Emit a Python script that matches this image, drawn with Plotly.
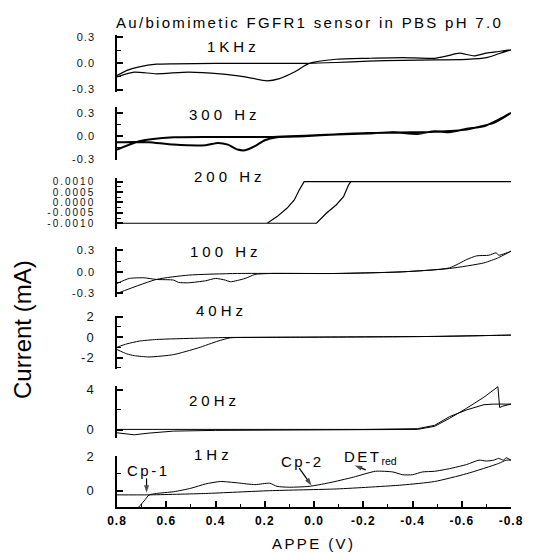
import plotly.graph_objects as go

# ---------------- data ----------------
title_text = "Au/biomimetic FGFR1 sensor in PBS pH 7.0"
y_title = "Current (mA)"
x_title = "APPE (V)"
panel_labels = ["1KHz", "300 Hz", "200 Hz", "100 Hz", "40Hz", "20Hz", "1Hz"]

x_tickvals = [0.8, 0.6, 0.4, 0.2, 0.0, -0.2, -0.4, -0.6, -0.8]
x_ticktext = ["0.8", "0.6", "0.4", "0.2", "0.0", "-0.2", "-0.4", "-0.6", "-0.8"]
x_minor = [0.7, 0.5, 0.3, 0.1, -0.1, -0.3, -0.5, -0.7]

# 1 kHz
khz1_fwd_v = [0.80, 0.73, 0.64, 0.51, 0.38, 0.28, 0.19, 0.14, 0.08, 0.02, -0.09, -0.22, -0.36, -0.49, -0.54, -0.59, -0.65, -0.70, -0.75, -0.80]
khz1_fwd_i = [-0.155, -0.10, -0.12, -0.10, -0.12, -0.155, -0.20, -0.175, -0.10, 0.0, 0.047, 0.058, 0.066, 0.058, 0.085, 0.117, 0.085, 0.117, 0.136, 0.155]
khz1_rev_v = [-0.80, -0.75, -0.70, -0.62, -0.49, -0.36, -0.22, -0.09, 0.02, 0.20, 0.40, 0.57, 0.64, 0.71, 0.76, 0.80]
khz1_rev_i = [0.155, 0.11, 0.065, 0.045, 0.04, 0.035, 0.025, 0.01, 0.0, 0.0, 0.0, -0.005, -0.01, -0.04, -0.08, -0.14]

# 300 Hz
hz300_fwd_v = [0.80, 0.73, 0.67, 0.57, 0.44, 0.39, 0.35, 0.31, 0.28, 0.24, 0.20, 0.15, 0.04, -0.09, -0.22, -0.32, -0.42, -0.49, -0.55, -0.62, -0.69, -0.75, -0.80]
hz300_fwd_i = [-0.078, -0.074, -0.078, -0.109, -0.117, -0.087, -0.109, -0.174, -0.183, -0.13, -0.052, -0.013, 0.0, 0.022, 0.035, 0.052, 0.03, 0.065, 0.052, 0.096, 0.13, 0.217, 0.304]
hz300_rev_v = [-0.80, -0.73, -0.62, -0.49, -0.22, 0.18, 0.57, 0.71, 0.80]
hz300_rev_i = [0.304, 0.174, 0.087, 0.057, 0.043, -0.009, -0.013, -0.065, -0.174]

# 200 Hz
hz200_fwd_v = [0.80, -0.01, -0.05, -0.09, -0.12, -0.14, -0.15, -0.80]
hz200_fwd_i = [-0.001, -0.001, -0.00052, -0.00012, 0.00028, 0.00084, 0.001, 0.001]
hz200_rev_v = [-0.80, 0.04, 0.06, 0.08, 0.11, 0.15, 0.19, 0.80]
hz200_rev_i = [0.001, 0.001, 0.0006, 0.00012, -0.00028, -0.00068, -0.001, -0.001]

# 100 Hz
hz100_fwd_v = [0.80, 0.75, 0.69, 0.64, 0.57, 0.55, 0.51, 0.44, 0.40, 0.36, 0.34, 0.28, 0.24, 0.18, -0.09, -0.36, -0.55, -0.62, -0.66, -0.71, -0.74, -0.75, -0.80]
hz100_fwd_i = [-0.161, -0.092, -0.083, -0.106, -0.115, -0.147, -0.152, -0.124, -0.092, -0.115, -0.138, -0.092, -0.037, -0.023, -0.023, 0.0, 0.055, 0.17, 0.221, 0.23, 0.263, 0.23, 0.286]
hz100_rev_v = [-0.80, -0.75, -0.69, -0.55, -0.36, -0.09, 0.31, 0.51, 0.64, 0.80]
hz100_rev_i = [0.286, 0.198, 0.124, 0.046, 0.0, -0.023, -0.023, -0.046, -0.106, -0.30]

# 40 Hz
hz40_fwd_v = [0.80, 0.76, 0.73, 0.67, 0.57, 0.47, 0.39, 0.34, 0.25, 0.0, -0.49, -0.80]
hz40_fwd_i = [-1.22, -1.64, -1.81, -1.94, -1.71, -1.05, -0.39, -0.07, -0.03, 0.0, 0.07, 0.2]
hz40_rev_v = [-0.80, -0.49, 0.0, 0.34, 0.47, 0.64, 0.71, 0.76, 0.80]
hz40_rev_i = [0.2, 0.07, 0.0, -0.03, -0.1, -0.23, -0.39, -0.66, -0.99]

# 20 Hz
hz20_fwd_v = [0.80, 0.73, 0.67, 0.57, 0.40, -0.42, -0.49, -0.55, -0.62, -0.69, -0.747, -0.754, -0.767, -0.80]
hz20_fwd_i = [-0.31, -0.51, -0.34, -0.14, -0.07, 0.03, 0.34, 1.13, 2.15, 3.25, 4.3, 2.22, 2.36, 2.56]
hz20_rev_v = [-0.80, -0.73, -0.69, -0.62, -0.55, -0.49, -0.42, -0.20, 0.40, 0.80]
hz20_rev_i = [2.56, 2.56, 2.5, 1.98, 1.3, 0.44, 0.1, 0.03, 0.03, 0.03]

# 1 Hz
hz1_fwd_v = [0.73, 0.72, 0.69, 0.67, 0.64, 0.57, 0.50, 0.44, 0.38, 0.31, 0.24, 0.18, 0.15, 0.10, 0.02, -0.06, -0.16, -0.25, -0.32, -0.36, -0.40, -0.44, -0.49, -0.55, -0.62, -0.67, -0.70, -0.73, -0.75, -0.77, -0.78, -0.80]
hz1_fwd_i = [-1.27, -1.08, -0.59, -0.25, -0.16, -0.06, 0.14, 0.39, 0.53, 0.45, 0.35, 0.43, 0.25, 0.20, 0.25, 0.45, 0.78, 1.12, 1.08, 0.92, 0.92, 1.08, 1.12, 1.27, 1.51, 1.76, 1.71, 1.76, 1.86, 1.76, 1.90, 1.76]
hz1_rev_v = [-0.80, -0.78, -0.75, -0.62, -0.49, -0.36, -0.22, -0.09, 0.18, 0.44, 0.67, 0.80]
hz1_rev_i = [1.76, 1.76, 1.57, 0.98, 0.53, 0.33, 0.20, 0.10, 0.0, -0.16, -0.24, -0.24]

# y ticks per panel
y_tickvals = [
    [-0.3, 0.0, 0.3],
    [-0.3, 0.0, 0.3],
    [-0.001, -0.0005, 0.0, 0.0005, 0.001],
    [-0.3, 0.0, 0.3],
    [-2, 0, 2],
    [0, 4],
    [0, 2],
]
y_ticktext = [
    ["-0.3", "0.0", "0.3"],
    ["-0.3", "0.0", "0.3"],
    ["-0.0010", "-0.0005", "0.0000", "0.0005", "0.0010"],
    ["-0.3", "0.0", "0.3"],
    ["-2", "0", "2"],
    ["0", "4"],
    ["0", "2"],
]
y_minor = [
    [-0.15, 0.15],
    [-0.15, 0.15],
    [-0.00125, -0.00075, -0.00025, 0.00025, 0.00075],
    [-0.15, 0.15],
    [-3, -1, 1],
    [2],
    [1],
]
y_ranges = [
    [-0.325, 0.325],
    [-0.31, 0.385],
    [-0.00129, 0.00119],
    [-0.345, 0.34],
    [-3.12, 2.1],
    [-0.86, 4.37],
    [-0.94, 2.0],
]

# 1 Hz peak annotations (data coordinates of the 1 Hz panel)
cp_texts = ["Cp-1", "Cp-2"]
cp_text_pos = [(0.674, 1.15), (0.047, 1.71)]
cp_arrow_head = [(0.68, -0.12), (0.01, 0.30)]
cp_arrow_tail = [(0.68, 0.71), (0.06, 1.30)]
det_text = "DET"
det_sub = "red"
det_text_pos = (-0.114, 1.94)
det_arrow_head = (-0.165, 1.45)
det_arrow_tail = (-0.21, 1.20)

# ---------------- layout geometry ----------------
W, H = 535, 553
ML, MR, MT, MB = 117, 24, 20, 46
PW, PH = W - ML - MR, H - MT - MB
panel_px = [(35, 91.7), (106.7, 160), (177.7, 229.3), (247.3, 296.7),
            (315.7, 369), (386, 438.3), (456, 507)]
label_px = [(231, 47), (223, 115), (228, 177), (224, 252), (219, 310), (212.5, 400), (211, 454)]

FONT = "Arial, Liberation Sans, sans-serif"


def px_x(x):
    return (x - ML) / PW


def px_y(y):
    return (H - MB - y) / PH


def ls(text, px):
    return f"<span style='letter-spacing:{px}px'>{text}</span>"


series = [
    (khz1_fwd_v + khz1_rev_v, khz1_fwd_i + khz1_rev_i, 1.2, "spline"),
    (hz300_fwd_v + hz300_rev_v, hz300_fwd_i + hz300_rev_i, 2.0, "spline"),
    (hz200_fwd_v + hz200_rev_v, hz200_fwd_i + hz200_rev_i, 1.2, "linear"),
    (hz100_fwd_v + hz100_rev_v, hz100_fwd_i + hz100_rev_i, 1.0, "spline"),
    (hz40_fwd_v + hz40_rev_v, hz40_fwd_i + hz40_rev_i, 1.0, "spline"),
    (hz20_fwd_v + hz20_rev_v, hz20_fwd_i + hz20_rev_i, 1.0, "linear"),
    (hz1_fwd_v + hz1_rev_v, hz1_fwd_i + hz1_rev_i, 1.0, "spline"),
]

fig = go.Figure()
layout = dict(
    width=W, height=H,
    margin=dict(l=ML, r=MR, t=MT, b=MB, pad=0),
    paper_bgcolor="white", plot_bgcolor="white",
    showlegend=False,
    font=dict(family=FONT, color="black"),
)

ytick_sizes = [11, 11, 10, 11, 13, 13, 13]
ytick_ls = [1, 1, 2, 1, 1, 1, 1]

for k, (xs, ys, lw, shape) in enumerate(series):
    n = k + 1
    xa = "x" if n == 1 else f"x{n}"
    ya = "y" if n == 1 else f"y{n}"
    fig.add_trace(go.Scatter(
        x=xs, y=ys, mode="lines", xaxis=xa, yaxis=ya,
        line=dict(color="black", width=lw, shape=shape, smoothing=0.6 if shape == "spline" else None),
        hoverinfo="skip",
    ))
    top, bot = panel_px[k]
    is_bottom = (n == 7)
    xkey = "xaxis" if n == 1 else f"xaxis{n}"
    ykey = "yaxis" if n == 1 else f"yaxis{n}"
    xax = dict(
        domain=[0, 1], anchor=ya, range=[0.8, -0.8],
        showgrid=False, zeroline=False,
    )
    if n != 1:
        xax["matches"] = "x"
    if is_bottom:
        xax.update(
            visible=True, showline=True, linecolor="black", linewidth=1.5,
            ticks="inside", ticklen=6, tickwidth=1.5, tickcolor="black",
            tickmode="array", tickvals=x_tickvals,
            ticktext=[ls(t, 1) for t in x_ticktext],
            tickfont=dict(family=FONT, size=12, color="black", weight="bold"),
            ticklabelstandoff=2,
            minor=dict(ticks="inside", ticklen=3, tickwidth=1.2, tickcolor="black",
                       tickmode="array", tickvals=x_minor),
        )
    else:
        xax.update(visible=False)
    layout[xkey] = xax
    layout[ykey] = dict(
        domain=[px_y(bot), px_y(top)], anchor=xa, range=y_ranges[k],
        showgrid=False, zeroline=False, showline=True, linecolor="black", linewidth=1.5,
        ticks="inside", ticklen=6, tickwidth=1.5, tickcolor="black",
        tickmode="array", tickvals=y_tickvals[k],
        ticktext=[ls(t, ytick_ls[k]) for t in y_ticktext[k]],
        tickfont=dict(family=FONT, size=ytick_sizes[k], color="#111"),
        ticklabelstandoff=18,
        minor=dict(ticks="inside", ticklen=4, tickwidth=1.2, tickcolor="black",
                   tickmode="array", tickvals=y_minor[k]),
    )

# arrows in the 1 Hz panel, drawn as short lines ending in an arrow marker
for (hx, hy), (tx, ty) in list(zip(cp_arrow_head, cp_arrow_tail)) + [(det_arrow_head, det_arrow_tail)]:
    fig.add_trace(go.Scatter(
        x=[tx, hx], y=[ty, hy], mode="lines+markers", xaxis="x7", yaxis="y7",
        line=dict(color="black", width=1.2),
        marker=dict(symbol="arrow", angleref="previous", size=[0, 8], color="black",
                    line=dict(width=0)),
        hoverinfo="skip",
    ))

annotations = []
annotations.append(dict(
    text=ls(title_text, 2.3), x=px_x(309.5), y=px_y(22.7), xref="paper", yref="paper",
    xanchor="center", yanchor="middle", showarrow=False,
    font=dict(family=FONT, size=15, color="black"),
))
annotations.append(dict(
    text=y_title, x=px_x(22), y=px_y(330), xref="paper", yref="paper",
    xanchor="center", yanchor="middle", showarrow=False, textangle=-90,
    font=dict(family=FONT, size=24, color="black"),
))
annotations.append(dict(
    text=ls(x_title, 2.4), x=px_x(313), y=px_y(543), xref="paper", yref="paper",
    xanchor="center", yanchor="middle", showarrow=False,
    font=dict(family=FONT, size=15, color="black"),
))
for lab, (lx, ly) in zip(panel_labels, label_px):
    annotations.append(dict(
        text=ls(lab, 4), x=px_x(lx + 2), y=px_y(ly), xref="paper", yref="paper",
        xanchor="center", yanchor="middle", showarrow=False,
        font=dict(family=FONT, size=15, color="black"),
    ))
for t, (tx, ty) in zip(cp_texts, cp_text_pos):
    annotations.append(dict(
        text=ls(t, 2.5), x=tx, y=ty, xref="x7", yref="y7",
        xanchor="center", yanchor="middle", showarrow=False,
        font=dict(family=FONT, size=15, color="black"),
    ))
annotations.append(dict(
    text=ls(det_text, 2.5) + "<sub>" + det_sub + "</sub>",
    x=det_text_pos[0], y=det_text_pos[1], xref="x7", yref="y7",
    xanchor="left", yanchor="middle", showarrow=False,
    font=dict(family=FONT, size=15, color="black"),
))

layout["annotations"] = annotations
fig.update_layout(**layout)
fig.write_html("out.html", config={"displayModeBar": False},
               post_script="document.body.style.margin='0px';")
